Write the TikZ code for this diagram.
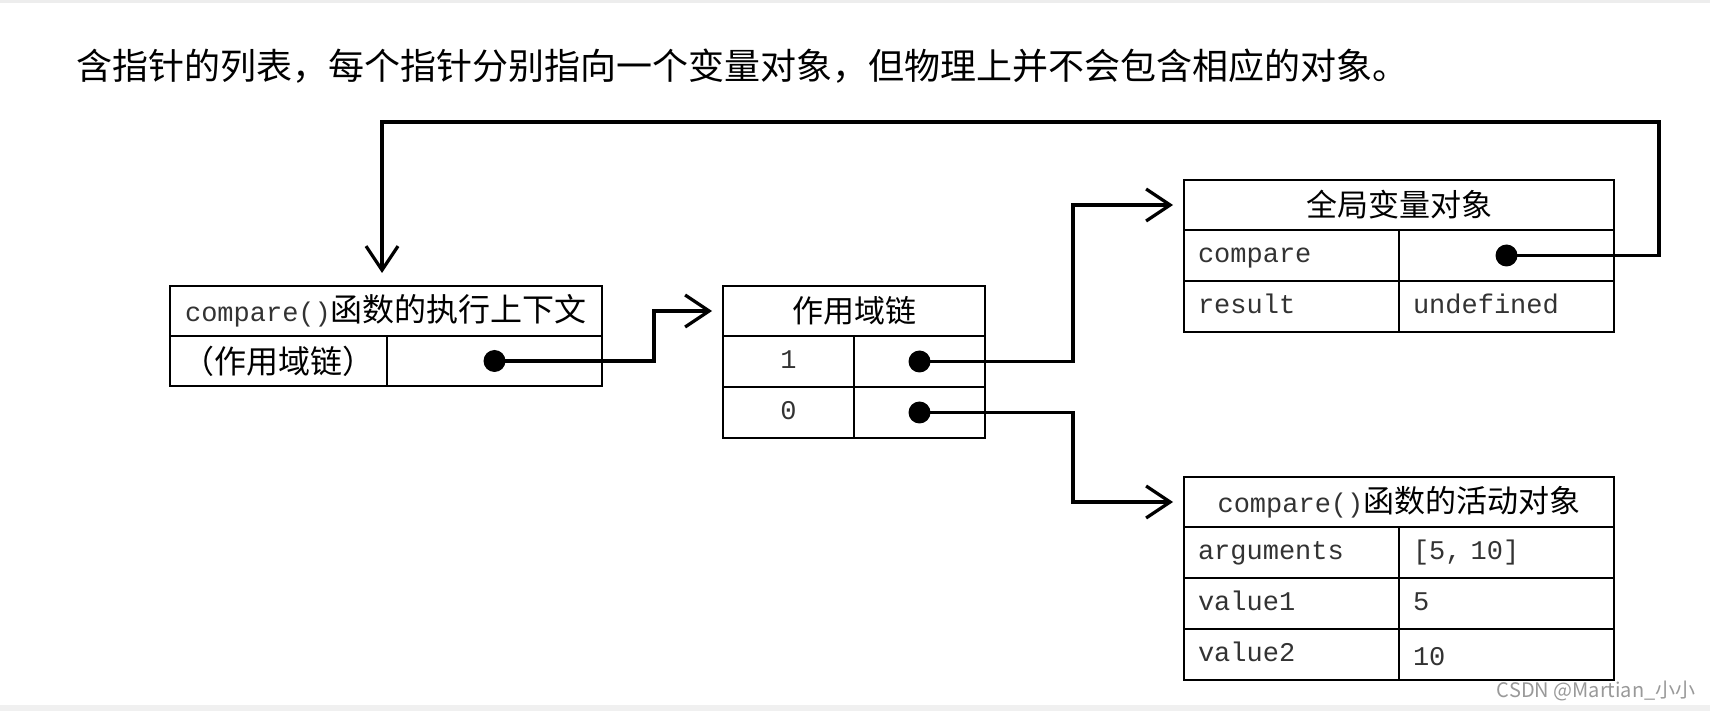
\documentclass[tikz,border=0pt]{standalone}
\usepackage{fontspec}
\setmainfont{Liberation Serif}
\setmonofont{Liberation Mono}
\newfontfamily\cjkfam{Noto Sans CJK SC}
\usetikzlibrary{arrows.meta}
\newcommand\monotxt{\fontsize{13.5pt}{16pt}\selectfont\ttfamily\color{black!80}}
\newcommand\cjktxt{\fontsize{15.5pt}{18pt}\selectfont\cjkfam\color{black}}
\newcommand\cjkbig{\fontsize{16pt}{19pt}\selectfont\cjkfam\color{black}}
\tikzset{
  cell/.style={draw, line width=1pt, inner sep=0pt, minimum height=25.5pt},
  lcell/.style={cell, align=left, inner xsep=7pt, text width=93.5pt, font=\monotxt, text height=10.2pt, text depth=3pt},
  ccell/.style={cell, font=\monotxt, text height=10.2pt, text depth=3pt},
  conn/.style={line width=1.7pt, -{Straight Barb[length=12pt,width=16pt,line width=1.6pt]}, shorten >=5pt},
  dotmark/.style={fill=black},
}
\begin{document}
\begin{tikzpicture}[x=0.5pt,y=-0.5pt]
\useasboundingbox (0,0) rectangle (1710,711);
\fill[white] (0,0) rectangle (1710,711);
\fill[black!7] (0,0) rectangle (1710,3);
\fill[black!6] (0,705) rectangle (1710,711);

\node[anchor=west, inner sep=0pt, font=\fontsize{18pt}{22pt}\selectfont\cjkfam] (title) at (76,66)
  {含指针的列表，每个指针分别指向一个变量对象，但物理上并不会包含相应的对象。};

% box A
\node[cell, minimum width=216pt, minimum height=25pt] (A0) at (386,311) {\monotxt compare()\cjkbig 函数的执行上下文};
\node[cell, minimum width=108.5pt, minimum height=25pt] (A1) at (278.5,361) {\cjkbig （作用域链）};
\node[cell, minimum width=107.5pt, minimum height=25pt] (A2) at (494.5,361) {};

% box B
\node[cell, minimum width=131pt, minimum height=25pt] (B0) at (854,311) {\cjktxt 作用域链};
\node[ccell, minimum width=65.5pt] (B1l) at (788.5,361.5) {1};
\node[ccell, minimum width=65.5pt] (B1r) at (919.5,361.5) {};
\node[ccell, minimum width=65.5pt] (B2l) at (788.5,412.5) {0};
\node[ccell, minimum width=65.5pt] (B2r) at (919.5,412.5) {};

% box C
\node[cell, minimum width=215pt, minimum height=25pt] (C0) at (1399,205) {\cjktxt 全局变量对象};
\node[lcell] (C1l) at (1291.5,255.5) {compare};
\node[lcell] (C1r) at (1506.5,255.5) {};
\node[lcell] (C2l) at (1291.5,306.5) {result};
\node[lcell] (C2r) at (1506.5,306.5) {undefined};

% box D
\node[cell, minimum width=215pt, minimum height=25pt] (D0) at (1399,502) {\monotxt compare()\cjktxt 函数的活动对象};
\node[lcell] (D1l) at (1291.5,552.5) {arguments};
\node[lcell] (D1r) at (1506.5,552.5) {[5, 10]};
\node[lcell] (D2l) at (1291.5,603.5) {value1};
\node[lcell] (D2r) at (1506.5,603.5) {5};
\node[lcell] (D3l) at (1291.5,654.5) {value2};
\node[lcell] (D3r) at (1506.5,654.5) {\raisebox{-2pt}{10}};

% dots
\fill[dotmark] (A2.center) circle[radius=5.5pt];
\fill[dotmark] (B1r.center) circle[radius=5.5pt];
\fill[dotmark] (B2r.center) circle[radius=5.5pt];
\fill[dotmark] (C1r.center) circle[radius=5.5pt];

% connectors
\draw[conn] (A2.center) -| ([xshift=-34pt]B0.west) -- (B0.west);
\draw[conn] (B1r.center) -| ([xshift=-55pt]C0.west) -- (C0.west);
\draw[conn] (B2r.center) -| ([xshift=-55pt]D0.west) -- (D0.west);
\coordinate (loop) at (1659,122);
\draw[conn, shorten >=6pt] (C1r.center) -| (loop) -| ([xshift=-2pt]A0.north);

% watermark
\node[anchor=east, inner sep=0pt, text=black!40, font=\fontsize{10pt}{12pt}\selectfont\cjkfam] (wm) at (1696,691) {CSDN @Martian\_小小};
\end{tikzpicture}
\end{document}
